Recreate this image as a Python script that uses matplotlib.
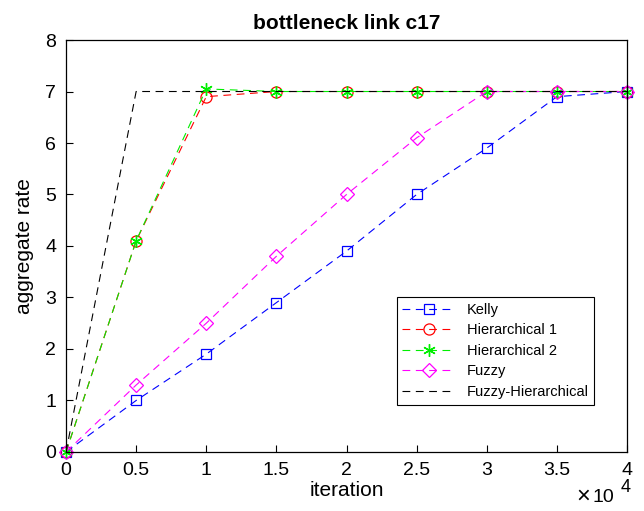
import matplotlib
matplotlib.use("Agg")
import matplotlib.pyplot as plt
import numpy as np

plt.rcParams['font.family'] = ['Liberation Sans', 'DejaVu Sans']

# data
iteration = [0, 5000, 10000, 15000, 20000, 25000, 30000, 35000, 40000]
kelly = [0, 1.0, 1.9, 2.9, 3.9, 5.0, 5.9, 6.9, 7.0]
hier1 = [0, 4.1, 6.9, 7.0, 7.0, 7.0, 7.0, 7.0, 7.0]
hier2 = [0, 4.1, 7.05, 7.0, 7.0, 7.0, 7.0, 7.0, 7.0]
fuzzy = [0, 1.3, 2.5, 3.8, 5.0, 6.1, 7.0, 7.0, 7.0]
fuzzy_hier = [0, 7.0, 7.0, 7.0, 7.0, 7.0, 7.0, 7.0, 7.0]

fig = plt.figure(figsize=(6.44, 5.11), dpi=100)
ax = fig.add_axes([0.1025, 0.1155, 0.8711, 0.8062])

dash = (0, (7, 5))
ax.plot(iteration, kelly, color='blue', linestyle=dash, lw=0.8, marker='s', ms=7, mfc='none', mew=0.9, label='Kelly', clip_on=False)
ax.plot(iteration, hier1, color='red', linestyle=dash, lw=0.8, marker='o', ms=8, mfc='none', mew=0.9, label='Hierarchical 1', clip_on=False)
ax.plot(iteration, hier2, color='#00ee00', linestyle=dash, lw=0.8, marker=(6, 2, 0), ms=9, mew=1.0, label='Hierarchical 2', clip_on=False)
ax.plot(iteration, fuzzy, color='magenta', linestyle=dash, lw=0.8, marker='D', ms=7, mfc='none', mew=0.9, label='Fuzzy', clip_on=False)
ax.plot(iteration, fuzzy_hier, color='black', linestyle=dash, lw=0.8, label='Fuzzy-Hierarchical')

ax.set_xlim(0, 40000)
ax.set_ylim(0, 8)
ax.set_xticks(np.arange(0, 40001, 5000))
ax.set_xticklabels(['0', '0.5', '1', '1.5', '2', '2.5', '3', '3.5', '4'])
ax.set_yticks(range(0, 9))
ax.tick_params(direction='in', labelsize=14, length=5, pad=7)
for s in ax.spines.values():
    s.set_linewidth(0.9)

ax.set_xlabel('iteration', fontsize=15, labelpad=2)
ax.set_ylabel('aggregate rate', fontsize=15, labelpad=8)
ax.set_title('bottleneck link c17', fontsize=15, fontweight='bold', pad=8)

# matlab style exponent label
fig.text(0.906, 0.028, '×', fontsize=17, ha='center', va='center')
fig.text(0.920, 0.018, '10', fontsize=14, va='baseline')
fig.text(0.963, 0.038, '4', fontsize=13, va='baseline')

leg = ax.legend(loc='lower right', bbox_to_anchor=(0.955, 0.097), fontsize=10.5,
                fancybox=False, framealpha=1, edgecolor='black', handlelength=3.6,
                borderpad=0.4, labelspacing=0.45, handletextpad=0.8)
leg.get_frame().set_linewidth(0.8)

fig.savefig('out.png', dpi=100)
